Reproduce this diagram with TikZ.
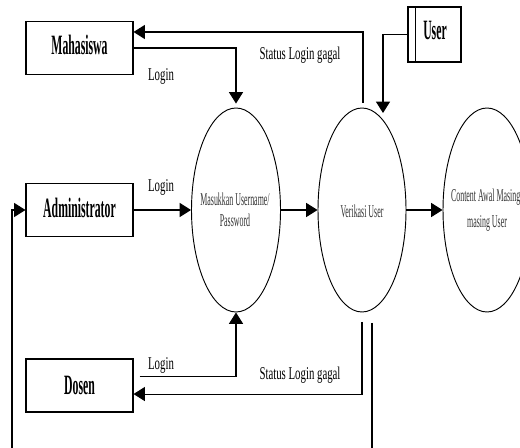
\documentclass[tikz,border=0pt]{standalone}
\usepackage{fontspec}
\setmainfont{Liberation Serif}
\newfontfamily\boxfnt[FakeStretch=0.42]{Liberation Serif}
\newfontfamily\labfnt[FakeStretch=0.6]{Liberation Serif}
\newfontfamily\elfnt[FakeStretch=0.44]{Liberation Serif}
\usetikzlibrary{arrows.meta,shapes.geometric}
\begin{document}
\begin{tikzpicture}[x=0.75pt,y=-0.75pt,
  entity/.style={draw, line width=0.8pt, minimum width=80.25pt, minimum height=39.75pt, inner sep=0pt},
  etext/.style={font=\boxfnt\bfseries\fontsize{21}{21}\selectfont, inner sep=0pt},
  proc/.style={draw, ellipse, line width=0.7pt, minimum width=66pt, minimum height=153pt, inner sep=0pt},
  ptext/.style={font=\elfnt\fontsize{13.5}{15.75}\selectfont, text=black!80, align=center, inner sep=0pt},
  lab/.style={font=\labfnt\fontsize{13.5}{13.5}\selectfont, anchor=base, inner sep=0pt},
  flow/.style={line width=0.8pt},
  arr/.style={flow, -{Triangle[length=8.5pt,width=10.5pt]}}]
\useasboundingbox (0,0) rectangle (520,448);
\clip (0,0) rectangle (520,448);
% entities
\node[entity] (mah) at (79.5,48) {};
\node[etext] (maht) at (79.5,45) {Mahasiswa};
\node[entity] (adm) at (79.5,210) {};
\node[etext] (admt) at (79.5,208) {Administrator};
\node[entity] (dos) at (79.5,385.5) {};
\node[etext] (dost) at (79.5,385) {Dosen};
% data store User
\node[draw, line width=0.8pt, minimum width=39.75pt, minimum height=41.25pt, inner sep=0pt] (usr) at (434.5,34.5) {};
\draw[line width=0.8pt] ([xshift=6pt]usr.north west) -- ([xshift=6pt]usr.south west);
\node[etext] (usrt) at (435,30) {User};
% processes
\node[proc, minimum width=66.75pt] (e1) at (236,210) {};
\node[ptext] (e1t) at (235,210) {Masukkan Username/\\Password};
\node[proc] (e2) at (362,210) {};
\node[ptext] (e2t) at (362,211) {Verikasi User};
\node[proc] (e3) at (487,210) {};
\node[ptext, font=\elfnt\fontsize{13.5}{19.5}\selectfont] (e3t) at (487,210) {Content Awal Masing-\\masing User};
% connectors
\draw[arr, shorten >=3pt] (mah.east) -| (e1.north);
\draw[arr] (adm.east) -- (e1.west);
\draw[arr] ([xshift=4.5pt,yshift=7pt]dos.east) -| (e1.south);
\draw[arr] (e1.east) -- (e2.west);
\draw[arr] (e2.east) -- (e3.west);
\coordinate (ut) at (383,113);
\draw[arr] (usr.west) -| (ut);
\coordinate (st) at (363,103);
\draw[arr] (st) |- ([yshift=12pt]mah.east);
\coordinate (sb) at (362,322);
\draw[arr] (sb) |- ([yshift=-6.4pt]dos.east);
\coordinate (r1) at (372,323);
\coordinate (r2) at (372,448);
\draw[flow] (r1) -- (r2);
\coordinate (lb) at (12,448);
\draw[arr] (lb) |- (adm.west);
% labels
\node[lab] (lg1) at (161,81) {Login};
\node[lab] (lg2) at (161,192) {Login};
\node[lab] (lg3) at (161,369) {Login};
\node[lab] (sg1) at (300,60) {Status Login gagal};
\node[lab] (sg2) at (300,379) {Status Login gagal};
\end{tikzpicture}
\end{document}
